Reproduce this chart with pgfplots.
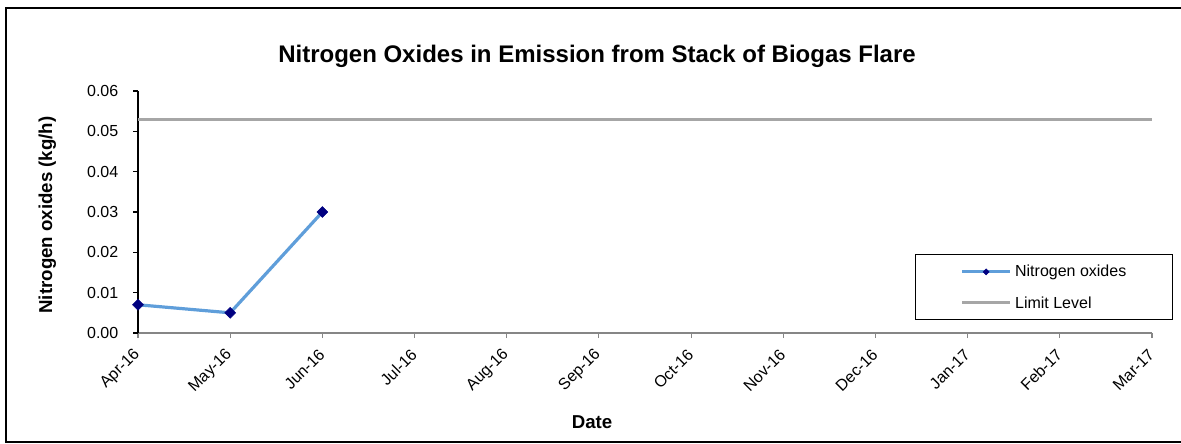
\documentclass[border=0pt]{standalone}
\usepackage{pgfplots}
\pgfplotsset{compat=1.18}
\usepackage{fontspec}
\setmainfont{Liberation Sans}

\definecolor{noxline}{RGB}{95,158,218}
\definecolor{noxmark}{RGB}{0,0,128}
\definecolor{limitgray}{RGB}{166,166,166}
\definecolor{axisgray}{RGB}{134,134,134}

\begin{document}
\begin{tikzpicture}
\useasboundingbox (0,0) rectangle (885.75pt,332.25pt);
% outer chart frame (right side cut off in the reference)
\draw[black, line width=0.9pt] (890pt,326.25pt) -- (4.5pt,326.25pt) -- (4.5pt,0.75pt) -- (890pt,0.75pt);

\begin{axis}[
  at={(103.5pt,82.5pt)}, anchor=south west,
  scale only axis, width=760.5pt, height=181.5pt,
  xmin=0, xmax=11, ymin=0, ymax=0.06,
  axis x line*=bottom, axis y line*=left,
  x axis line style={draw=axisgray, line width=0.8pt, -},
  y axis line style={draw=black, line width=0.8pt, -},
  xtick={0,...,11},
  xticklabels={Apr-16,May-16,Jun-16,Jul-16,Aug-16,Sep-16,Oct-16,Nov-16,Dec-16,Jan-17,Feb-17,Mar-17},
  ytick={0,0.01,0.02,0.03,0.04,0.05,0.06},
  tick align=outside, major tick length=3.75pt,
  x tick style={draw=axisgray, line width=0.8pt},
  y tick style={draw=black, line width=0.8pt},
  xticklabel style={xshift=2pt, yshift=-8pt, rotate=45, anchor=east,
    font=\fontsize{12}{14}\selectfont},
  yticklabel style={xshift=-7.5pt, font=\fontsize{12}{14}\selectfont,
    /pgf/number format/.cd, fixed, fixed zerofill, precision=2, assume math mode=true},
  scaled y ticks=false,
  clip=false,
  legend style={at={(1.0207,0.3264)}, anchor=north east, draw=black, line width=0.8pt,
    inner xsep=0pt, inner ysep=7pt, row sep=11pt,
    font=\fontsize{12}{14}\selectfont,
    nodes={inner sep=0pt, text height=9pt, text depth=3pt}},
  legend cell align=left,
  legend image code/.code={
    \path[draw=none, fill=none] (0pt,0pt) rectangle (75pt,0pt);
    \draw[#1, mark size=1.6pt, mark repeat=2, mark phase=2]
      plot coordinates {(35.25pt,0pt)(53.25pt,0pt)(71.25pt,0pt)};
  },
]
\addplot[color=noxline, line width=2.4pt, mark=square*, mark size=2.9pt,
  mark options={rotate=45, fill=noxmark, draw=noxmark, line width=0.4pt}]
  coordinates {(0,0.007)(1,0.005)(2,0.030)};
\addlegendentry{\parbox{118pt}{Nitrogen oxides}}
\addplot[color=limitgray, line width=2.25pt]
  coordinates {(0,0.053)(11,0.053)};
\addlegendentry{\parbox{118pt}{Limit Level}}
\end{axis}

\node[anchor=base, font=\bfseries\fontsize{18}{21}\selectfont] at (447.75pt,285pt)
  {Nitrogen Oxides in Emission from Stack of Biogas Flare};
\node[anchor=base, font=\bfseries\fontsize{14}{17}\selectfont] at (444pt,11.25pt) {Date};
\node[anchor=base, rotate=90, font=\bfseries\fontsize{14}{17}\selectfont] at (39pt,171pt)
  {Nitrogen oxides (kg/h)};
\end{tikzpicture}
\end{document}
